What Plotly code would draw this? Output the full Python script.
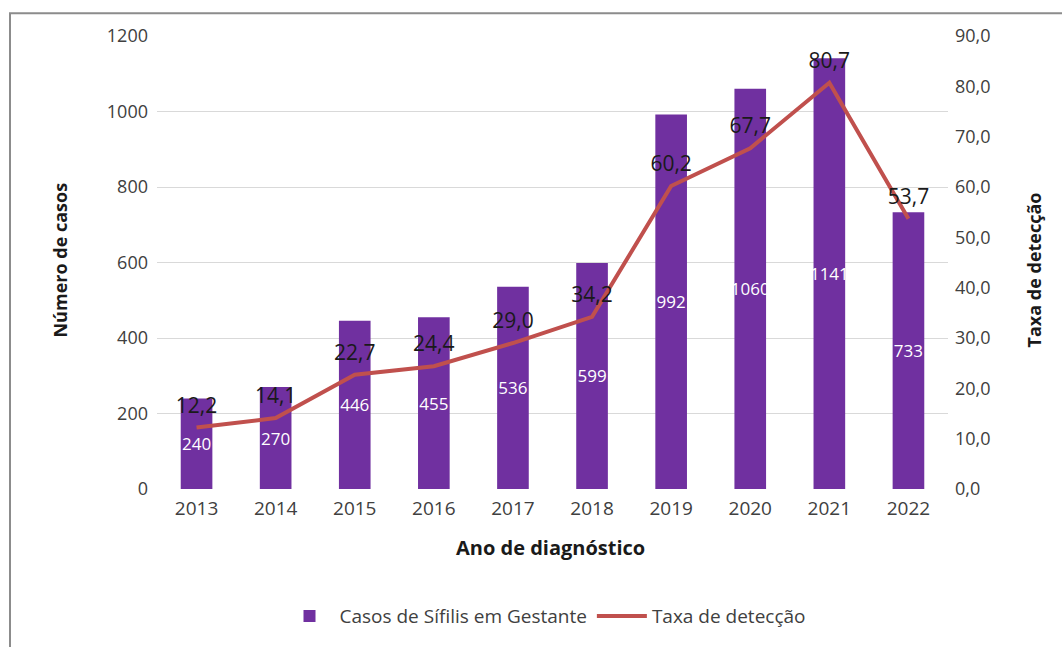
import plotly.graph_objects as go

anos = ["2013", "2014", "2015", "2016", "2017", "2018", "2019", "2020", "2021", "2022"]
casos = [240, 270, 446, 455, 536, 599, 992, 1060, 1141, 733]
taxa = [12.2, 14.1, 22.7, 24.4, 29.0, 34.2, 60.2, 67.7, 80.7, 53.7]
y2_vals = [0, 10, 20, 30, 40, 50, 60, 70, 80, 90]
y2_text = ["0,0", "10,0", "20,0", "30,0", "40,0", "50,0", "60,0", "70,0", "80,0", "90,0"]

FONT = "Open Sans"
W, H = 1062, 647
L, R, T, B = 157, 114, 36, 155
pw, ph = W - L - R, H - T - B

def px(x):
    return (x - L) / pw

def py(y):
    return (H - B - y) / ph

fig = go.Figure()
fig.add_trace(go.Bar(
    x=anos, y=casos, name="Casos de Sífilis em Gestante",
    marker=dict(color="#7030A0", line=dict(width=0)),
    width=0.4,
    text=[str(v) for v in casos], textposition="inside", insidetextanchor="middle",
    textangle=0, constraintext="none",
    textfont=dict(color="white", size=17, family=FONT),
))
fig.add_trace(go.Scatter(
    x=anos, y=taxa, name="Taxa de detecção", yaxis="y2",
    mode="lines+markers+text", line=dict(color="#C0504D", width=4),
    marker=dict(size=14, color="rgba(0,0,0,0)"),
    text=[f"{v:.1f}".replace(".", ",") for v in taxa], textposition="top center",
    textfont=dict(color="#1a1a1a", size=21, family=FONT),
    cliponaxis=False,
))

fig.update_layout(
    width=W, height=H,
    margin=dict(l=L, r=R, t=T, b=B),
    paper_bgcolor="white", plot_bgcolor="white",
    font=dict(family=FONT, color="#404040", size=16),
    xaxis=dict(type="category", range=[-0.5, 9.5], showgrid=False, showline=False,
               zeroline=False, ticks="", ticklabelstandoff=6,
               tickfont=dict(size=19, color="#404040")),
    yaxis=dict(range=[0, 1200], tickvals=[0, 200, 400, 600, 800, 1000, 1200],
               showgrid=True, gridcolor="#d9d9d9", gridwidth=1, zeroline=False,
               showline=False, ticks="", ticklabelstandoff=8,
               tickfont=dict(size=18, color="#404040")),
    yaxis2=dict(range=[0, 90], overlaying="y", side="right", tickvals=y2_vals,
                ticktext=y2_text, showgrid=False, zeroline=False, showline=False,
                ticks="", ticklabelstandoff=6, tickfont=dict(size=18, color="#404040")),
    legend=dict(orientation="h", x=px(545), xanchor="center", y=py(620), yanchor="middle",
                font=dict(size=19, color="#404040"), bgcolor="rgba(0,0,0,0)",
                itemwidth=50),
    showlegend=True,
    annotations=[
        dict(text="<b>Ano de diagnóstico</b>", x=px(550), y=py(551), xref="paper", yref="paper",
             xanchor="center", yanchor="middle",
             showarrow=False, font=dict(size=20, color="#1a1a1a")),
        dict(text="<b>Número de casos</b>", x=px(60), y=py(262), xref="paper", yref="paper",
             xanchor="center", yanchor="middle",
             showarrow=False, textangle=-90, font=dict(size=18, color="#1a1a1a")),
        dict(text="<b>Taxa de detecção</b>", x=px(1034), y=py(272), xref="paper", yref="paper",
             xanchor="center", yanchor="middle",
             showarrow=False, textangle=-90, font=dict(size=18, color="#1a1a1a")),
    ],
    shapes=[
        dict(type="path", xref="paper", yref="paper",
             path=f"M {px(10)},{py(700)} L {px(10)},{py(13)} L {px(1100)},{py(13)}",
             line=dict(color="#8c8c8c", width=2)),
    ],
)
fig.write_html("out.html")
